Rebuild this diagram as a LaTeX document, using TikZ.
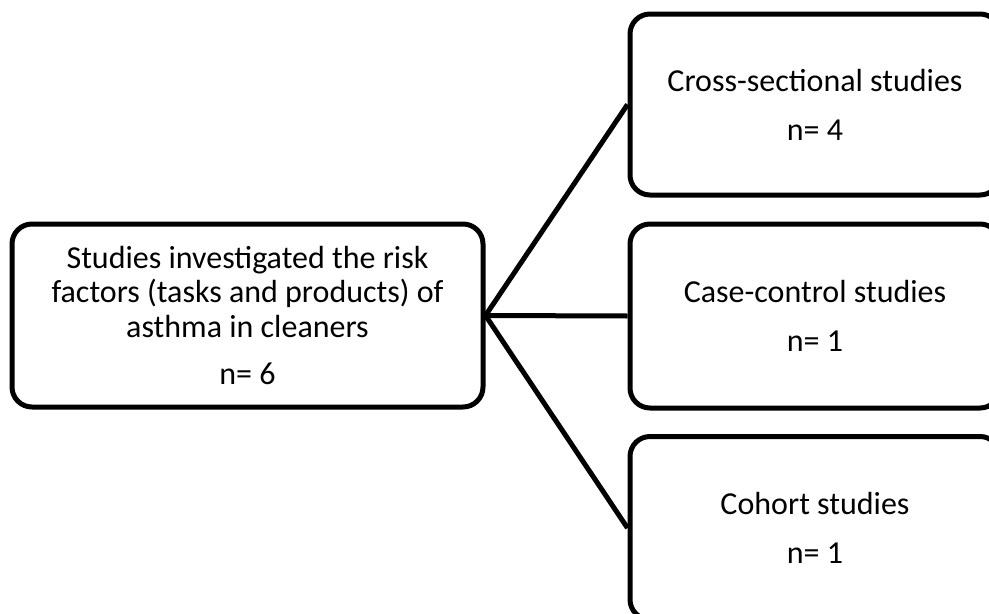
\documentclass[tikz,border=0pt]{standalone}
\usepackage{fontspec}
\setmainfont{Carlito}
\tikzset{
  box/.style={draw=black, line width=3.75pt, rounded corners=15pt, fill=white,
    align=center, inner sep=0pt, font=\fontsize{24pt}{25.9pt}\selectfont},
  link/.style={draw=black, line width=3.75pt}
}
\begin{document}
\begin{tikzpicture}[x=0.75pt, y=-0.75pt]
\useasboundingbox (0,0) rectangle (989,614);
\clip (0,0) rectangle (989,614);
\node[box, minimum width=471*0.75pt, minimum height=183*0.75pt] (src) at (247.5,315.5)
  {Studies investigated the risk\\factors (tasks and products) of\\asthma in cleaners\\[9.5pt]n= 6};
\node[box, minimum width=370*0.75pt, minimum height=181*0.75pt] (cs) at (815,104.5)
  {Cross-sectional studies\\[11pt]n= 4};
\node[box, minimum width=370*0.75pt, minimum height=184*0.75pt] (cc) at (815,316)
  {Case-control studies\\[11pt]n= 1};
\node[box, minimum width=370*0.75pt, minimum height=183*0.75pt] (co) at (815,528)
  {Cohort studies\\[11pt]n= 1};
\draw[link] (src.east) -- (cs.west);
\draw[link] (src.east) -- (cc.west);
\draw[link] (src.east) -- (co.west);
\end{tikzpicture}
\end{document}
